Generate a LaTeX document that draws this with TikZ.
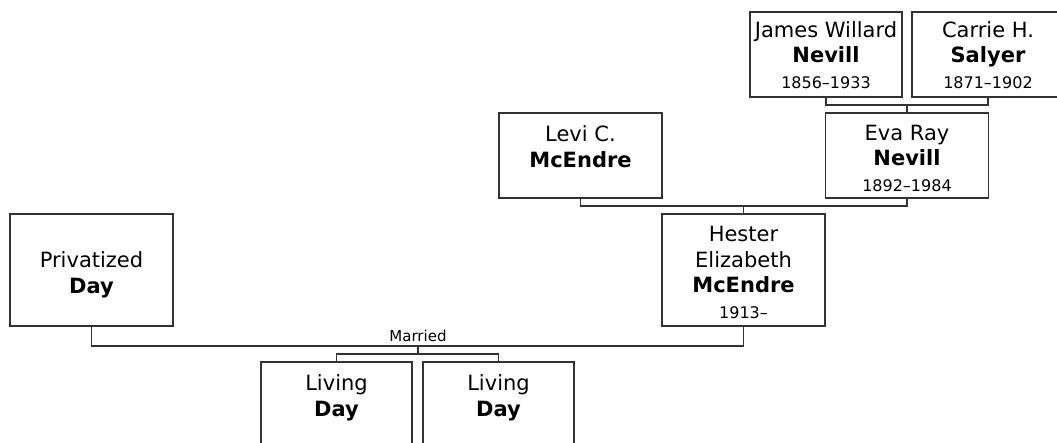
\documentclass[tikz,border=0pt]{standalone}
\usepackage{fontspec}
\setmainfont{DejaVu Sans}
\usepackage{tikz}
\usepackage{xcolor}

\tikzset{
  box/.style={draw=black!80,line width=1.3pt,minimum width=163pt,minimum height=85pt,inner sep=0pt},
  who/.style={align=center,font=\fontsize{21}{25.5}\selectfont,inner sep=0pt},
  tag/.style={font=\fontsize{15}{18}\selectfont,inner sep=0pt},
  link/.style={draw=black!80,line width=1.3pt},
}
\newcommand\lifespan[1]{{\fontsize{16}{19}\selectfont #1}}

\begin{document}
\begin{tikzpicture}[x=1pt,y=-1pt]
\useasboundingbox (0,0) rectangle (1057,443);
% grandparents
\node[box,minimum width=152pt] (jwn) at (826,54.5) {};
\node[box,minimum width=152pt] (chs) at (988,54.5) {};
\node[who] (jwn-t) at (826,55) {James Willard\\\textbf{Nevill}\\\lifespan{1856–1933}};
\node[who] (chs-t) at (988,55) {Carrie H.\\\textbf{Salyer}\\\lifespan{1871–1902}};
% parents
\node[box] (lcm) at (580.5,155.5) {};
\node[box] (ern) at (907,155.5) {};
\node[who] (lcm-t) at (580.5,146.5) {Levi C.\\\textbf{McEndre}};
\node[who] (ern-t) at (907,158) {Eva Ray\\\textbf{Nevill}\\\lifespan{1892–1984}};
% couple
\node[box,minimum height=112pt] (pday) at (91.5,270) {};
\node[box,minimum height=112pt] (hem) at (743.5,270) {};
\node[who] (pday-t) at (91.5,275) {Privatized\\\textbf{Day}};
\node[who] (hem-t) at (743.5,272.5) {Hester\\Elizabeth\\\textbf{McEndre}\\\lifespan{1913–}};
% children
\node[box,minimum width=151pt] (lday1) at (336.5,404.5) {};
\node[box,minimum width=151pt] (lday2) at (498.5,404.5) {};
\node[who] (lday1-t) at (336.5,398) {Living\\\textbf{Day}};
\node[who] (lday2-t) at (498.5,398) {Living\\\textbf{Day}};

% connectors
\coordinate (nsJoin) at (907,105);
\draw[link] (jwn.south) |- (nsJoin) -| (chs.south);
\draw[link] (nsJoin) -- (ern.north);
\coordinate (mnJoin) at (743.5,206);
\draw[link] (lcm.south) |- (mnJoin) -| (ern.south);
\draw[link] (mnJoin) -- (hem.north);
\coordinate (dmJoin) at (418,346);
\draw[link] (pday.south) |- (dmJoin) -| (hem.south);
\node[tag,anchor=base] (married) at ([yshift=4.5pt]dmJoin) {Married};
\coordinate (kids) at (418,354);
\draw[link] (dmJoin) -- (kids);
\draw[link] (lday1.north) |- (kids) -| (lday2.north);
\end{tikzpicture}
\end{document}
